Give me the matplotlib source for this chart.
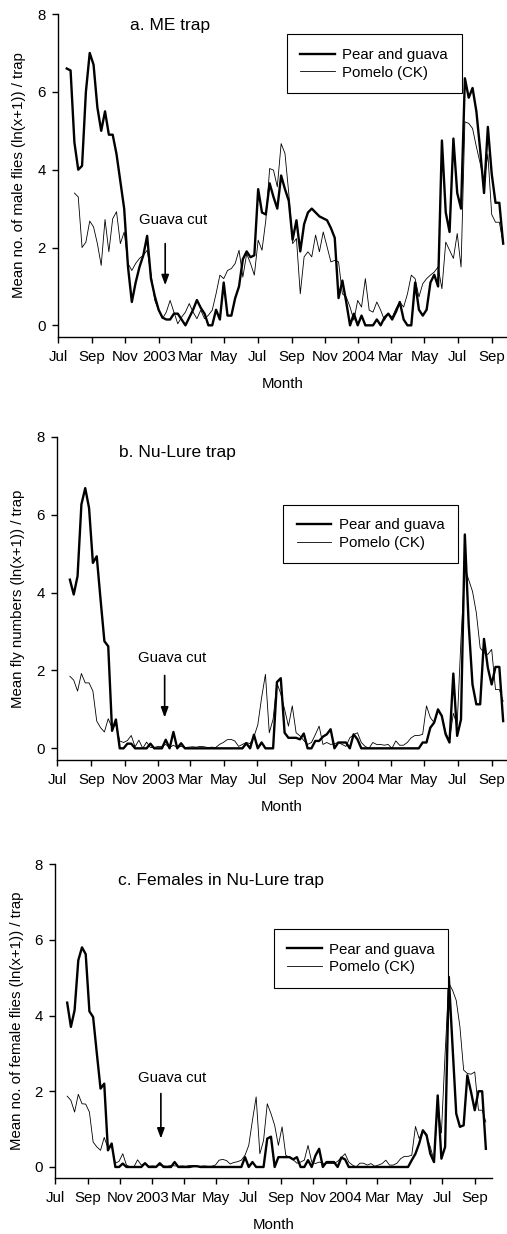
import numpy as np
import pandas as pd
import matplotlib
matplotlib.use('Agg')
import matplotlib.pyplot as plt
import matplotlib.transforms as mtransforms

plt.rcParams['font.family'] = ['Liberation Sans', 'DejaVu Sans']

nan = np.nan

# weekly trap checks, mid-Jul 2002 to late Sep 2004
weeks = pd.date_range('2002-07-17', periods=115, freq='7D')
tick_dates = pd.date_range('2002-07-01', '2004-09-01', freq='2MS')
tick_labels = ['Jul', 'Sep', 'Nov', '2003', 'Mar', 'May', 'Jul',
               'Sep', 'Nov', '2004', 'Mar', 'May', 'Jul', 'Sep']
series_names = ['Pear and guava', 'Pomelo (CK)']

# a. ME trap
pear_a = [6.6, 6.55, 4.7, 4.0, 4.1, 6.0, 7.0, 6.7, 5.6, 5.0,
          5.5, 4.9, 4.9, 4.4, 3.7, 3.0, 1.5, 0.6, 1.1, 1.5,
          1.8, 2.3, 1.2, 0.75, 0.4, 0.2, 0.15, 0.15, 0.3, 0.3,
          0.15, 0.0, 0.2, 0.4, 0.65, 0.45, 0.3, 0.0, 0.0, 0.4,
          0.15, 1.1, 0.25, 0.25, 0.7, 1.0, 1.7, 1.9, 1.75, 1.8,
          3.5, 2.9, 2.85, 3.65, 3.3, 3.0, 3.85, 3.5, 3.2, 2.2,
          2.7, 1.9, 2.6, 2.9, 3.0, 2.9, 2.8, 2.75, 2.7, 2.5,
          2.25, 0.7, 1.15, 0.6, 0.0, 0.3, 0.0, 0.25, 0.0, 0.0,
          0.0, 0.15, 0.0, 0.2, 0.3, 0.15, 0.35, 0.6, 0.15, 0.0,
          0.0, 1.1, 0.4, 0.25, 0.4, 1.1, 1.3, 1.0, 4.75, 2.9,
          2.4, 4.8, 3.4, 3.0, 6.35, 5.85, 6.1, 5.5, 4.5, 3.4,
          5.1, 3.9, 3.15, 3.15, 2.1]
pomelo_a = [nan, nan, 3.4, 3.3, 2.0, 2.14, 2.68, 2.53, 2.1, 1.54,
            2.72, 1.89, 2.74, 2.92, 2.1, 2.4, 1.59, 1.41, 1.59, 1.72,
            1.8, 1.93, 1.33, 0.64, 0.39, 0.17, 0.34, 0.64, 0.34, 0.04,
            0.21, 0.34, 0.56, 0.34, 0.17, 0.39, 0.17, 0.26, 0.39, 0.81,
            1.29, 1.2, 1.41, 1.46, 1.59, 1.93, 1.24, 1.84, 1.59, 1.29,
            2.19, 1.93, 2.7, 4.03, 3.99, 3.56, 4.67, 4.42, 3.39, 2.1,
            2.23, 0.81, 1.76, 1.89, 1.76, 2.32, 1.89, 2.4, 2.02, 1.63,
            1.67, 1.63, 0.81, 0.73, 0.47, 0.13, 0.64, 0.47, 1.2, 0.39,
            0.34, 0.6, 0.39, 0.13, 0.3, 0.21, 0.43, 0.6, 0.47, 0.81,
            1.29, 1.2, 0.73, 1.07, 1.2, 1.29, 1.37, 1.5, 0.94, 2.14,
            1.93, 1.72, 2.36, 1.5, 5.23, 5.19, 5.06, 4.59, 4.16, 3.7,
            4.4, 2.85, 2.65, 2.65, 2.1]

# b. Nu-Lure trap
pear_b = [nan, 4.33, 3.95, 4.42, 6.26, 6.68, 6.17, 4.76, 4.93, 3.82,
          2.75, 2.62, 0.45, 0.74, 0.0, 0.0, 0.12, 0.12, 0.0, 0.0,
          0.0, 0.0, 0.12, 0.0, 0.0, 0.0, 0.22, 0.0, 0.42, 0.0,
          0.13, 0.0, 0.0, 0.0, 0.0, 0.0, 0.0, 0.0, 0.0, 0.0,
          0.0, 0.0, 0.0, 0.0, 0.0, 0.0, 0.0, 0.13, 0.0, 0.35,
          0.0, 0.15, 0.0, 0.0, 0.0, 1.7, 1.8, 0.4, 0.27, 0.27,
          0.27, 0.23, 0.38, 0.0, 0.0, 0.19, 0.19, 0.3, 0.36, 0.49,
          0.0, 0.15, 0.15, 0.15, 0.0, 0.36, 0.23, 0.0, 0.0, 0.0,
          0.0, 0.0, 0.0, 0.0, 0.0, 0.0, 0.0, 0.0, 0.0, 0.0,
          0.0, 0.0, 0.0, 0.15, 0.15, 0.53, 0.66, 1.0, 0.83, 0.36,
          0.15, 1.92, 0.32, 0.74, 5.49, 3.2, 1.64, 1.13, 1.13, 2.81,
          2.07, 1.64, 2.09, 2.09, 0.7]
pomelo_b = [nan, 1.85, 1.75, 1.47, 1.92, 1.68, 1.68, 1.47, 0.7, 0.53,
            0.42, 0.76, 0.53, 0.6, 0.19, 0.15, 0.2, 0.33, 0.04, 0.21,
            0.0, 0.16, 0.02, 0.02, 0.05, 0.05, 0.1, 0.02, 0.08, 0.02,
            0.05, 0.02, 0.03, 0.04, 0.03, 0.05, 0.04, 0.02, 0.03, 0.02,
            0.1, 0.15, 0.22, 0.23, 0.19, 0.05, 0.1, 0.15, 0.12, 0.3,
            0.6, 1.3, 1.9, 0.4, 0.75, 1.68, 1.4, 1.0, 0.57, 1.09,
            0.4, 0.32, 0.2, 0.1, 0.15, 0.35, 0.57, 0.1, 0.15, 0.1,
            0.12, 0.15, 0.1, 0.05, 0.27, 0.35, 0.4, 0.15, 0.05, 0.0,
            0.15, 0.1, 0.1, 0.08, 0.1, 0.0, 0.19, 0.08, 0.08, 0.15,
            0.27, 0.33, 0.33, 0.36, 1.09, 0.79, 0.66, 0.96, 0.85, 0.4,
            0.2, 0.9, 0.6, 2.8, 4.63, 4.33, 4.03, 3.48, 2.58, 2.45,
            2.41, 2.54, 1.51, 1.51, 1.21]

# c. Females in Nu-Lure trap
pear_c = [nan, 4.34, 3.7, 4.14, 5.46, 5.8, 5.62, 4.11, 3.96, 3.0,
          2.07, 2.2, 0.44, 0.62, 0.0, 0.0, 0.09, 0.0, 0.0, 0.0,
          0.0, 0.0, 0.1, 0.0, 0.0, 0.0, 0.1, 0.0, 0.0, 0.0,
          0.13, 0.0, 0.0, 0.0, 0.0, 0.02, 0.02, 0.0, 0.0, 0.0,
          0.0, 0.0, 0.0, 0.0, 0.0, 0.0, 0.0, 0.0, 0.0, 0.26,
          0.0, 0.13, 0.0, 0.0, 0.0, 0.75, 0.8, 0.0, 0.26, 0.26,
          0.26, 0.26, 0.2, 0.26, 0.0, 0.0, 0.18, 0.0, 0.3, 0.48,
          0.0, 0.13, 0.13, 0.13, 0.0, 0.25, 0.2, 0.0, 0.0, 0.0,
          0.0, 0.0, 0.0, 0.0, 0.0, 0.0, 0.0, 0.0, 0.0, 0.0,
          0.0, 0.0, 0.0, 0.0, 0.18, 0.35, 0.62, 0.97, 0.84, 0.35,
          0.13, 1.89, 0.22, 0.53, 5.02, 3.2, 1.41, 1.06, 1.1, 2.42,
          1.98, 1.5, 2.0, 2.0, 0.48]
pomelo_c = [nan, 1.87, 1.76, 1.45, 1.92, 1.67, 1.66, 1.45, 0.66, 0.53,
            0.44, 0.78, 0.5, 0.55, 0.1, 0.15, 0.35, 0.05, 0.0, 0.0,
            0.19, 0.05, 0.1, 0.02, 0.03, 0.02, 0.05, 0.03, 0.02, 0.04,
            0.03, 0.02, 0.03, 0.02, 0.04, 0.03, 0.02, 0.02, 0.03, 0.02,
            0.02, 0.05, 0.18, 0.2, 0.17, 0.08, 0.12, 0.14, 0.18, 0.31,
            0.57, 1.23, 1.85, 0.35, 0.7, 1.67, 1.41, 1.1, 0.57, 1.06,
            0.31, 0.25, 0.19, 0.1, 0.13, 0.18, 0.57, 0.13, 0.09, 0.13,
            0.1, 0.09, 0.09, 0.09, 0.15, 0.25, 0.35, 0.13, 0.05, 0.0,
            0.1, 0.1, 0.05, 0.09, 0.02, 0.05, 0.09, 0.18, 0.05, 0.05,
            0.1, 0.22, 0.28, 0.28, 0.31, 1.07, 0.75, 0.97, 0.8, 0.53,
            0.18, 1.67, 0.9, 3.0, 4.85, 4.67, 4.4, 3.7, 2.56, 2.47,
            2.45, 2.51, 1.5, 1.5, 1.19]

panels = [
    dict(rect=[0.1144, 0.7269, 0.8856, 0.2617], pear=pear_a, pomelo=pomelo_a,
         title='a. ME trap', title_xy=(0.160, 0.966),
         ylabel='Mean no. of male flies (ln(x+1)) / trap',
         xmax='2004-09-29', leg=(0.51, 0.937),
         cut_xy=(0.256, 0.362), cut_date='2003-01-13', cut_y=(2.1, 1.03)),
    dict(rect=[0.1130, 0.3841, 0.8870, 0.2620], pear=pear_b, pomelo=pomelo_b,
         title='b. Nu-Lure trap', title_xy=(0.137, 0.95),
         ylabel='Mean fly numbers (ln(x+1)) / trap',
         xmax='2004-09-29', leg=(0.502, 0.79),
         cut_xy=(0.255, 0.3155), cut_date='2003-01-13', cut_y=(1.87, 0.79)),
    dict(rect=[0.1085, 0.0451, 0.8613, 0.2547], pear=pear_c, pomelo=pomelo_c,
         title='c. Females in Nu-Lure trap', title_xy=(0.144, 0.949),
         ylabel='Mean no. of female flies (ln(x+1)) / trap',
         xmax='2004-10-03', leg=(0.501, 0.793),
         cut_xy=(0.268, 0.319), cut_date='2003-01-17', cut_y=(1.94, 0.75)),
]

fs = 10.8
fig = plt.figure(figsize=(5.07, 12.34), dpi=100)
shift = mtransforms.ScaledTranslation(-0.045, 0, fig.dpi_scale_trans)

for p in panels:
    ax = fig.add_axes(p['rect'])
    ax.plot(weeks, p['pear'], color='black', lw=1.7, label=series_names[0])
    ax.plot(weeks, p['pomelo'], color='black', lw=0.6, label=series_names[1])

    ax.set_xlim(pd.Timestamp('2002-07-01'), pd.Timestamp(p['xmax']))
    ax.set_ylim(-0.3, 8)
    ax.set_yticks([0, 2, 4, 6, 8])
    ax.set_xticks(tick_dates)
    ax.set_xticklabels(tick_labels)
    for lab in ax.get_xticklabels():
        lab.set_transform(lab.get_transform() + shift)

    for side in ['top', 'right']:
        ax.spines[side].set_visible(False)
    for side in ['left', 'bottom']:
        ax.spines[side].set_linewidth(1.0)
    ax.tick_params(axis='both', direction='out', length=4, width=1.0,
                   labelsize=fs, pad=5)

    ax.set_ylabel(p['ylabel'], fontsize=fs)
    ax.yaxis.set_label_coords(-0.072, 0.5)
    ax.set_xlabel('Month', fontsize=fs)
    ax.xaxis.set_label_coords(0.5, -0.125)

    ax.text(p['title_xy'][0], p['title_xy'][1], p['title'], transform=ax.transAxes,
            fontsize=12.5, ha='left', va='center')

    ax.text(p['cut_xy'][0], p['cut_xy'][1], 'Guava cut', transform=ax.transAxes,
            fontsize=fs, ha='center', va='center')
    d = pd.Timestamp(p['cut_date'])
    ax.annotate('', xy=(d, p['cut_y'][1]), xytext=(d, p['cut_y'][0]),
                arrowprops=dict(arrowstyle='-|>,head_length=0.6,head_width=0.22',
                                color='black', lw=1.2, shrinkA=0, shrinkB=0))

    leg = ax.legend(loc='upper left', bbox_to_anchor=p['leg'], borderaxespad=0,
                    fontsize=fs, frameon=True, fancybox=False, framealpha=1,
                    edgecolor='black', handlelength=2.3, handletextpad=0.5,
                    labelspacing=0.25, borderpad=0.9)
    leg.get_frame().set_linewidth(0.8)

fig.savefig('out.png', dpi=100)
